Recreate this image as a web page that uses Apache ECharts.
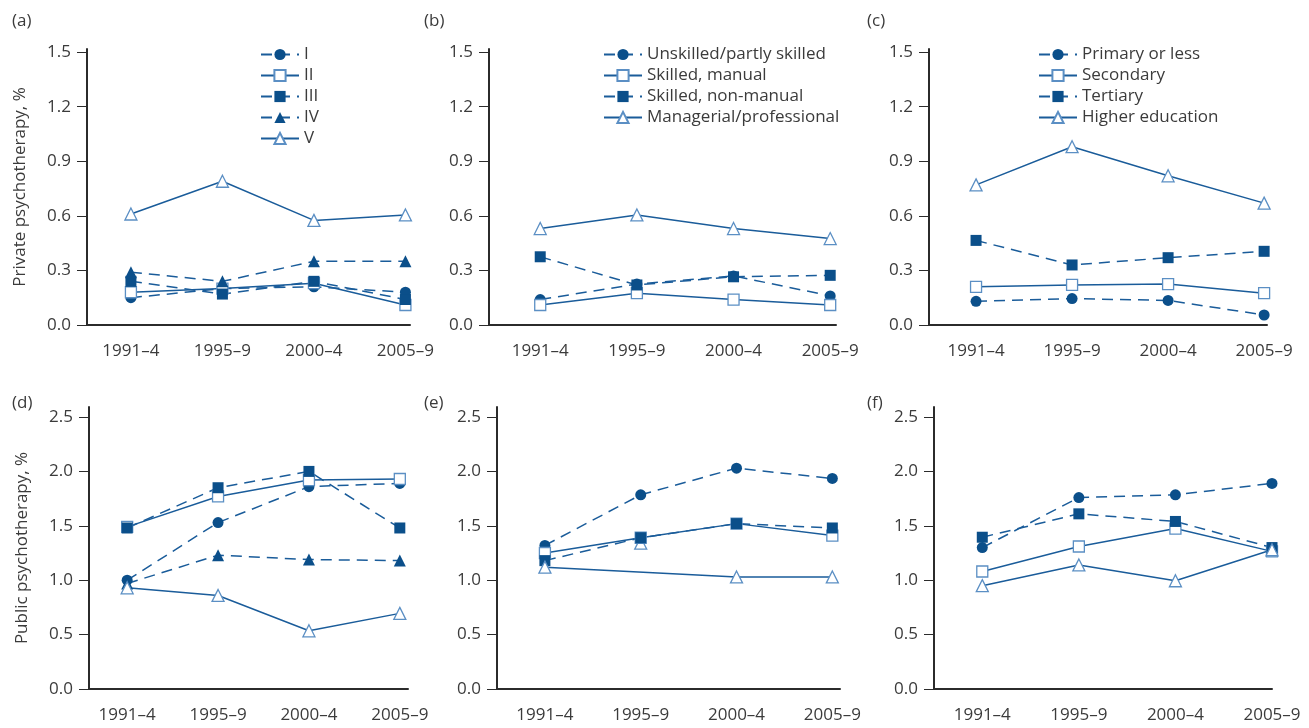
<!DOCTYPE html>
<html>
<head>
<meta charset="utf-8">
<script src="https://cdn.jsdelivr.net/npm/echarts@6/dist/echarts.min.js"></script>
<style>html,body{margin:0;padding:0;background:#fff}#c{width:1309px;height:728px}</style>
</head>
<body>
<div id="c"></div>
<script>
// Categories / tick labels
var periods = ['1991–4', '1995–9', '2000–4', '2005–9'];
var privTicks = [0, 0.3, 0.6, 0.9, 1.2, 1.5];
var pubTicks = [0, 0.5, 1.0, 1.5, 2.0, 2.5];

// Legend names
var classNames = ['I', 'II', 'III', 'IV', 'V'];
var occNames = ['Unskilled/partly skilled', 'Skilled, manual', 'Skilled, non-manual', 'Managerial/professional'];
var eduNames = ['Primary or less', 'Secondary', 'Tertiary', 'Higher education'];

// (a) Private psychotherapy by social class
var a_I   = [0.15, 0.20, 0.21, 0.18];
var a_II  = [0.18, 0.20, 0.23, 0.11];
var a_III = [0.24, 0.17, 0.24, 0.14];
var a_IV  = [0.29, 0.24, 0.35, 0.35];
var a_V   = [0.61, 0.79, 0.575, 0.605];
// (b) Private psychotherapy by occupation
var b_uns = [0.14, 0.225, 0.27, 0.16];
var b_man = [0.11, 0.175, 0.14, 0.11];
var b_non = [0.375, 0.22, 0.265, 0.273];
var b_mgr = [0.53, 0.605, 0.53, 0.475];
// (c) Private psychotherapy by education
var c_pri = [0.13, 0.145, 0.135, 0.055];
var c_sec = [0.21, 0.22, 0.225, 0.175];
var c_ter = [0.465, 0.33, 0.37, 0.405];
var c_hig = [0.77, 0.98, 0.82, 0.67];
// (d) Public psychotherapy by social class
var d_I   = [1.00, 1.53, 1.86, 1.89];
var d_II  = [1.49, 1.77, 1.92, 1.93];
var d_III = [1.48, 1.85, 2.00, 1.48];
var d_IV  = [0.97, 1.23, 1.19, 1.18];
var d_V   = [0.93, 0.86, 0.535, 0.695];
// (e) Public psychotherapy by occupation
var e_uns = [1.32, 1.785, 2.03, 1.935];
var e_man = [1.25, 1.39, 1.52, 1.41];
var e_non = [1.18, 1.39, 1.52, 1.48];
var e_mgr = [1.12, 1.34, 1.03, 1.03]; // line in the original skips the 1995–9 point
// (f) Public psychotherapy by education
var f_pri = [1.30, 1.76, 1.785, 1.89];
var f_sec = [1.08, 1.31, 1.475, 1.265];
var f_ter = [1.395, 1.61, 1.54, 1.30];
var f_hig = [0.95, 1.14, 0.995, 1.28];

var FONT = '"Open Sans", "Noto Sans", sans-serif';
var FS = 17;
var TXT = '#3b3b3b';
var LINE = '#1a5c9a';
var FILL = '#0b4f8a';
var OPEN = '#5b8fc4';

var styles = {
  fc: {symbol: 'circle', filled: true, dashed: true, size: 11},
  os: {symbol: 'rect', filled: false, dashed: false, size: 11},
  fs: {symbol: 'rect', filled: true, dashed: true, size: 11},
  ft: {symbol: 'triangle', filled: true, dashed: true, size: 12},
  ot: {symbol: 'triangle', filled: false, dashed: false, size: 12}
};

var panels = [
  {lab: '(a)', labX: 7, labY: 8, left: 87, width: 323, top: 49, height: 276, xmin: -0.48, xmax: 3.05, ymax: 1.517, ticks: privTicks, name: 'Private psychotherapy, %',
   legend: {left: 255, top: 41}, series: [[classNames[0], a_I, 'fc'], [classNames[1], a_II, 'os'], [classNames[2], a_III, 'fs'], [classNames[3], a_IV, 'ft'], [classNames[4], a_V, 'ot']]},
  {lab: '(b)', labX: 419, labY: 8, left: 489, width: 347, top: 49, height: 276, xmin: -0.53, xmax: 3.06, ymax: 1.517, ticks: privTicks, name: '',
   legend: {left: 598, top: 41}, series: [[occNames[0], b_uns, 'fc'], [occNames[1], b_man, 'os'], [occNames[2], b_non, 'fs'], [occNames[3], b_mgr, 'ot']]},
  {lab: '(c)', labX: 862, labY: 8, left: 929, width: 338, top: 49, height: 276, xmin: -0.49, xmax: 3.03, ymax: 1.517, ticks: privTicks, name: '',
   legend: {left: 1033, top: 41}, series: [[eduNames[0], c_pri, 'fc'], [eduNames[1], c_sec, 'os'], [eduNames[2], c_ter, 'fs'], [eduNames[3], c_hig, 'ot']]},
  {lab: '(d)', labX: 7, labY: 390, left: 89, width: 319, top: 407, height: 282, xmin: -0.42, xmax: 3.09, ymax: 2.592, ticks: pubTicks, name: 'Public psychotherapy, %',
   series: [['d I', d_I, 'fc'], ['d II', d_II, 'os'], ['d III', d_III, 'fs'], ['d IV', d_IV, 'ft'], ['d V', d_V, 'ot']]},
  {lab: '(e)', labX: 419, labY: 390, left: 497, width: 343, top: 407, height: 282, xmin: -0.5, xmax: 3.08, ymax: 2.592, ticks: pubTicks, name: '',
   series: [['e uns', e_uns, 'fc'], ['e man', e_man, 'os'], ['e non', e_non, 'fs'], ['e mgr', e_mgr, 'ot', 1]]},
  {lab: '(f)', labX: 862, labY: 390, left: 934, width: 338, top: 407, height: 282, xmin: -0.5, xmax: 3.0, ymax: 2.592, ticks: pubTicks, name: '',
   series: [['f pri', f_pri, 'fc'], ['f sec', f_sec, 'os'], ['f ter', f_ter, 'fs'], ['f hig', f_hig, 'ot']]}
];

var option = {
  animation: false,
  backgroundColor: '#fff',
  textStyle: {fontFamily: FONT},
  grid: [], xAxis: [], yAxis: [], series: [], legend: [], title: []
};

panels.forEach(function (p, i) {
  option.grid.push({left: p.left, top: p.top, width: p.width, height: p.height});
  option.title.push({text: p.lab, left: p.labX, top: p.labY, textStyle: {fontFamily: FONT, fontSize: FS, fontWeight: 'normal', color: TXT}});
  option.xAxis.push({
    type: 'value', gridIndex: i, min: p.xmin, max: p.xmax,
    axisLine: {show: true, onZero: false, lineStyle: {color: '#2b2b2b', width: 2}},
    axisTick: {show: false},
    splitLine: {show: false},
    axisLabel: {customValues: [0, 1, 2, 3], formatter: function (v) { return periods[Math.round(v)]; },
      margin: 18, fontSize: FS, color: TXT, fontFamily: FONT}
  });
  option.yAxis.push({
    type: 'value', gridIndex: i, min: 0, max: p.ymax,
    name: p.name, nameLocation: 'middle', nameGap: 58, nameTextStyle: {fontSize: FS, color: TXT, fontFamily: FONT},
    axisLine: {show: true, onZero: false, lineStyle: {color: '#2b2b2b', width: 2}},
    axisTick: {show: true, length: 10, customValues: p.ticks, lineStyle: {color: '#2b2b2b', width: 1}},
    splitLine: {show: false},
    axisLabel: {customValues: p.ticks, formatter: function (v) { return v.toFixed(1); },
      margin: 16, fontSize: FS, color: TXT, fontFamily: FONT}
  });
  var names = [];
  p.series.forEach(function (s) {
    var st = styles[s[2]];
    var skip = s[3];
    names.push(s[0]);
    var data = s[1].map(function (v, k) { return (skip === k) ? [k, null] : [k, v]; });
    option.series.push({
      type: 'line', name: s[0], xAxisIndex: i, yAxisIndex: i, data: data, connectNulls: true,
      symbol: st.symbol, symbolSize: st.size, showSymbol: true, clip: false,
      lineStyle: {color: LINE, width: 1.5, type: st.dashed ? [11, 7] : 'solid'},
      itemStyle: st.filled ? {color: FILL, borderColor: FILL, borderWidth: 0} : {color: '#fff', borderColor: OPEN, borderWidth: 1.3},
      emphasis: {disabled: true}
    });
    if (skip !== undefined) {
      option.series.push({
        type: 'line', name: s[0] + ' pt', xAxisIndex: i, yAxisIndex: i,
        data: s[1].map(function (v, k) { return k === skip ? [k, v] : [k, null]; }),
        symbol: st.symbol, symbolSize: st.size, showSymbol: true, clip: false, z: 1,
        lineStyle: {width: 0},
        itemStyle: st.filled ? {color: FILL} : {color: '#fff', borderColor: OPEN, borderWidth: 1.3},
        emphasis: {disabled: true}
      });
    }
  });
  if (p.legend) {
    option.legend.push({
      data: names, orient: 'vertical', left: p.legend.left, top: p.legend.top,
      itemWidth: 38, itemHeight: 14, itemGap: 4, selectedMode: false,
      textStyle: {fontSize: FS, lineHeight: 17, color: TXT, fontFamily: FONT}
    });
  }
});

var chart = echarts.init(document.getElementById('c'), null, {renderer: 'canvas'});
chart.setOption(option);
</script>
</body>
</html>
